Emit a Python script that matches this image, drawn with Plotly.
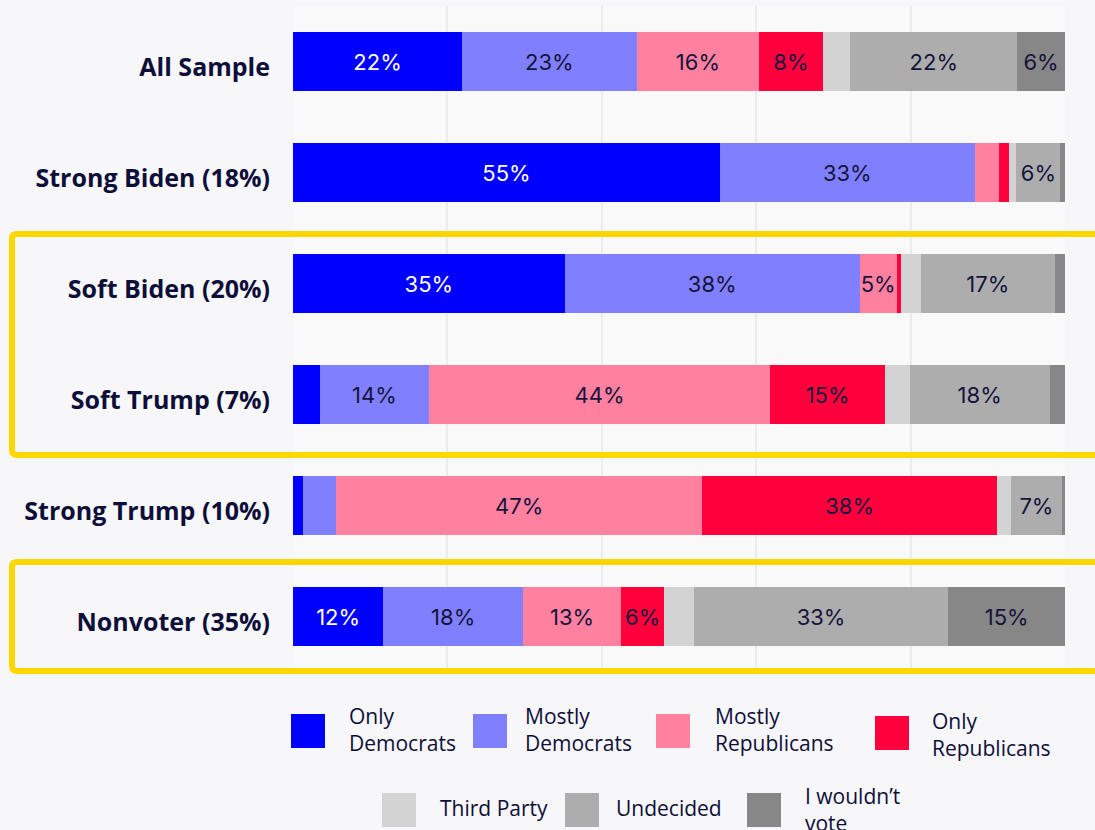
import plotly.graph_objects as go

# ---------------- data ----------------
groups = ["All Sample", "Strong Biden (18%)", "Soft Biden (20%)",
          "Soft Trump (7%)", "Strong Trump (10%)", "Nonvoter (35%)"]
series_names = ["Only Democrats", "Mostly Democrats", "Mostly Republicans",
                "Only Republicans", "Third Party", "Undecided", "I wouldn’t vote"]
legend_labels = ["Only<br>Democrats", "Mostly<br>Democrats", "Mostly<br>Republicans",
                 "Only<br>Republicans", "Third Party", "Undecided", "I wouldn’t<br>vote"]

only_dem      = [21.9, 55.3, 35.2, 3.5, 1.3, 11.7]
mostly_dem    = [22.6, 33.0, 38.2, 14.1, 4.3, 18.1]
mostly_rep    = [15.9, 3.2, 4.8, 44.2, 47.4, 12.7]
only_rep      = [8.2, 1.3, 0.6, 14.9, 38.2, 5.6]
third_party   = [3.6, 0.9, 2.5, 3.2, 1.8, 3.8]
undecided     = [21.6, 5.7, 17.4, 18.1, 6.6, 33.0]
wouldnt_vote  = [6.2, 0.6, 1.3, 2.2, 0.4, 15.1]

series_values = [only_dem, mostly_dem, mostly_rep, only_rep,
                 third_party, undecided, wouldnt_vote]
colors = ["#0000FF", "#8080FF", "#FF809F", "#FF003D", "#D3D3D3", "#ADADAD", "#878787"]
text_colors = ["#FFFFFF", "#14143C", "#14143C", "#14143C", "#14143C", "#14143C", "#14143C"]

NAVY = "#0E0E3A"
BG = "#F7F7F9"
W, H = 1095, 830
ML, MR, MT, MB = 293, 30, 6, 158
PW, PH = W - ML - MR, H - MT - MB


def xp(px):
    return (px - ML) / PW


def yp(py):
    return (H - MB - py) / PH


def rounded_box(left, top, right, bottom, r):
    # path in paper coordinates with rounded corners (r in pixels)
    pts = [
        f"M {xp(left + r)},{yp(top)}",
        f"L {xp(right - r)},{yp(top)}",
        f"Q {xp(right)},{yp(top)} {xp(right)},{yp(top + r)}",
        f"L {xp(right)},{yp(bottom - r)}",
        f"Q {xp(right)},{yp(bottom)} {xp(right - r)},{yp(bottom)}",
        f"L {xp(left + r)},{yp(bottom)}",
        f"Q {xp(left)},{yp(bottom)} {xp(left)},{yp(bottom - r)}",
        f"L {xp(left)},{yp(top + r)}",
        f"Q {xp(left)},{yp(top)} {xp(left + r)},{yp(top)}",
        "Z",
    ]
    return " ".join(pts)


fig = go.Figure()
for name, vals, col, tcol in zip(series_names, series_values, colors, text_colors):
    labels = [f"{v:.0f}%" if v >= 4.5 else "" for v in vals]
    fig.add_trace(go.Bar(
        y=groups, x=vals, name=name, orientation="h",
        marker=dict(color=col, line=dict(width=0)),
        text=labels, textposition="inside", insidetextanchor="middle",
        textangle=0,
        textfont=dict(family="Inter, Roboto, sans-serif", size=22, color=tcol),
        hoverinfo="x+name", showlegend=False,
    ))

shapes = []
annotations = []

# highlight boxes
for top, bot in [(234, 455), (562, 671)]:
    shapes.append(dict(type="path", xref="paper", yref="paper",
                       path=rounded_box(12, top, 1115, bot, 5),
                       line=dict(color="#FFD700", width=6), fillcolor="rgba(0,0,0,0)",
                       layer="above"))

# custom legend
legend_pos = [  # (swatch_left, swatch_center_y, text_left, text_center_y)
    (291, 731, 347, 729),
    (473, 731, 523, 729),
    (656, 731, 713, 729),
    (875, 733, 930, 734),
    (382, 810, 438, 808),
    (565, 810, 614, 808),
    (747, 810, 803, 809),
]
for lab, col, (sx, sy, tx, ty) in zip(legend_labels, colors, legend_pos):
    shapes.append(dict(type="rect", xref="paper", yref="paper",
                       x0=xp(sx), x1=xp(sx + 34), y0=yp(sy + 17), y1=yp(sy - 17),
                       fillcolor=col, line=dict(width=0), layer="above"))
    annotations.append(dict(text=lab, xref="paper", yref="paper",
                            x=xp(tx), y=yp(ty), xanchor="left", yanchor="middle",
                            align="left", showarrow=False,
                            font=dict(family="Open Sans, sans-serif", size=21, color=NAVY)))

fig.update_layout(
    width=W, height=H,
    barmode="stack", bargap=0.46,
    margin=dict(l=ML, r=MR, t=MT, b=MB, autoexpand=False),
    paper_bgcolor=BG, plot_bgcolor="#F9F9F9",
    uniformtext=dict(minsize=22, mode="show"),
    shapes=shapes, annotations=annotations,
    xaxis=dict(range=[0, 100], dtick=20, showticklabels=False, showgrid=True,
               gridcolor="#ECECEE", gridwidth=2, zeroline=False, fixedrange=True),
    yaxis=dict(autorange="reversed", showgrid=False, zeroline=False,
               ticklabelstandoff=22, ticklabelshift=-6,
               tickfont=dict(family="Open Sans, sans-serif", size=25, color=NAVY,
                             weight="bold")),
)

fig.write_html(
    "out.html",
    config={"displayModeBar": False},
    post_script=("document.body.style.margin='0';"
                 "document.body.style.overflow='hidden';"
                 f"document.body.style.background='{BG}';"),
)
